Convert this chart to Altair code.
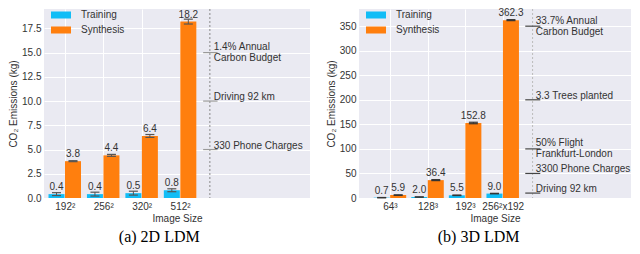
import altair as alt
import pandas as pd

series = ["Training", "Synthesis"]
series_colors = ["#12BDF6", "#FF7F0E"]

# (a) 2D LDM
cats_2d = ["192²", "256²", "320²", "512²"]
train_2d = [0.4, 0.4, 0.5, 0.8]
train_err_2d = [0.15, 0.2, 0.2, 0.15]
synth_2d = [3.8, 4.4, 6.4, 18.2]
synth_err_2d = [0.05, 0.1, 0.15, 0.25]
annot_vals_2d = [15, 10, 5]
annot_text_2d = ["1.4% Annual\nCarbon Budget", "Driving 92 km", "330 Phone Charges"]
yticks_2d = [0, 2.5, 5, 7.5, 10, 12.5, 15, 17.5]

# (b) 3D LDM
cats_3d = ["64³", "128³", "192³", "256²x192"]
train_3d = [0.7, 2.0, 5.5, 9.0]
train_err_3d = [0.3, 0.3, 0.5, 0.5]
synth_3d = [5.9, 36.4, 152.8, 362.3]
synth_err_3d = [0.5, 1.0, 1.5, 1.0]
annot_vals_3d = [350, 200, 100, 50, 10]
annot_text_3d = ["33.7% Annual\nCarbon Budget", "3.3 Trees planted",
                 "50% Flight\nFrankfurt-London", "3300 Phone Charges", "Driving 92 km"]
yticks_3d = [0, 50, 100, 150, 200, 250, 300, 350]

FONT = "Liberation Sans"
TXT = "#333333"


def panel(cats, train, terr, synth, serr, avals, atext, yticks, yfmt, ydom,
          xdom, width, dotted_x, tick_x0, tick_x1, text_x, tick_color, dot_color,
          err_color, caption):
    rows = []
    for i, c in enumerate(cats):
        rows.append({"idx": i, "cat": c, "series": "Training", "value": train[i], "err": terr[i]})
        rows.append({"idx": i, "cat": c, "series": "Synthesis", "value": synth[i], "err": serr[i]})
    df = pd.DataFrame(rows)
    label_expr = "[" + ",".join("'%s'" % c for c in cats) + "][datum.value]"
    X = alt.X("idx:Q", scale=alt.Scale(domain=xdom, nice=False, zero=False),
              axis=alt.Axis(values=list(range(len(cats))), labelExpr=label_expr,
                            title="Image Size", grid=True, labelPadding=3, titlePadding=2))
    yaxis = alt.Axis(values=yticks, format=yfmt, title="CO₂ Emissions (kg)",
                     grid=True, labelPadding=3, titlePadding=3)
    yscale = alt.Scale(domain=ydom, nice=False)

    layers = []
    for s, off in (("Training", -8.25), ("Synthesis", 8.25)):
        base = alt.Chart(df).transform_filter(alt.datum.series == s).transform_calculate(
            lo="datum.value - datum.err", hi="datum.value + datum.err")
        bar = base.mark_bar(width=16, xOffset=off).encode(
            x=X,
            y=alt.Y("value:Q", scale=yscale, axis=yaxis),
            color=alt.Color("series:N", scale=alt.Scale(domain=series, range=series_colors),
                            legend=alt.Legend(orient="none", legendX=12, legendY=1, title=None,
                                              symbolType="M-2,-0.7H2V0.7H-2Z", symbolSize=100,
                                              symbolStrokeWidth=0, symbolOpacity=1,
                                              labelFont=FONT, labelFontSize=10, labelColor=TXT,
                                              labelOffset=15, rowPadding=5, padding=0)))
        rule = base.mark_rule(xOffset=off, color=err_color, strokeWidth=1).encode(
            x=X, y=alt.Y("lo:Q", scale=yscale, axis=yaxis), y2="hi:Q")
        cap_hi = base.mark_rule(xOffset=off - 4.5, x2Offset=off + 4.5, color=err_color,
                                strokeWidth=1.2).encode(
            x=X, x2="idx:Q", y=alt.Y("hi:Q", scale=yscale, axis=yaxis))
        cap_lo = base.mark_rule(xOffset=off - 4.5, x2Offset=off + 4.5, color=err_color,
                                strokeWidth=1.2).encode(
            x=X, x2="idx:Q", y=alt.Y("lo:Q", scale=yscale, axis=yaxis))
        lab = base.mark_text(xOffset=off, dy=-2, baseline="bottom", font=FONT,
                             fontSize=10, color=TXT).encode(
            x=X, y=alt.Y("value:Q", scale=yscale, axis=yaxis),
            text=alt.Text("value:Q", format=".1f"))
        layers += [bar, rule, cap_hi, cap_lo, lab]

    adf = pd.DataFrame({"val": avals, "text": atext,
                        "multi": ["\n" in t for t in atext]})
    dotted = alt.Chart(pd.DataFrame({"d": [0]})).mark_rule(
        strokeDash=[2, 2], color=dot_color, strokeWidth=1).encode(x=alt.datum(dotted_x))
    ticks = alt.Chart(adf).mark_rule(color=tick_color, strokeWidth=1.2).encode(
        x=alt.datum(tick_x0), x2=alt.datum(tick_x1), y=alt.Y("val:Q", scale=yscale, axis=yaxis))
    t_single = alt.Chart(adf).transform_filter("!datum.multi").mark_text(
        align="left", baseline="bottom", font=FONT, fontSize=10, color=TXT, dy=1).encode(
        x=alt.datum(text_x), y=alt.Y("val:Q", scale=yscale, axis=yaxis), text="text:N")
    t_multi = alt.Chart(adf).transform_filter("datum.multi").mark_text(
        align="left", baseline="middle", font=FONT, fontSize=10, color=TXT,
        lineBreak="\n", lineHeight=11, dy=-5.5).encode(
        x=alt.datum(text_x), y=alt.Y("val:Q", scale=yscale, axis=yaxis), text="text:N")

    return alt.layer(dotted, *layers, ticks, t_single, t_multi).properties(
        width=width, height=189,
        title=alt.TitleParams(caption, orient="bottom", font="Liberation Serif", fontSize=16,
                              fontWeight="normal", color="black", offset=6, anchor="middle",
                              frame="bounds"))


left = panel(cats_2d, train_2d, train_err_2d, synth_2d, synth_err_2d,
             annot_vals_2d, annot_text_2d, yticks_2d, ".1f", [0, 19.5],
             [-0.41, 6.25], 266, 3.775, 3.6, 3.975, 3.875, "#9a9a9a", "#888888", "#555555",
             "(a) 2D LDM")
right = panel(cats_3d, train_3d, train_err_3d, synth_3d, synth_err_3d,
              annot_vals_3d, annot_text_3d, yticks_3d, "d", [0, 385],
              [-0.69, 6.28], 272, 3.795, 3.6, 4.0, 3.88, "#444444", "#bbbbbb", "#333333",
              "(b) 3D LDM")

chart = alt.hconcat(left, right, spacing=16).resolve_scale(
    color="independent", x="independent", y="independent").resolve_legend(
    color="independent").properties(padding=0).configure_view(
    fill="#EAEAF2", stroke=None).configure_axis(
    labelFont=FONT, titleFont=FONT, labelFontSize=10, titleFontSize=10,
    labelColor=TXT, titleColor=TXT, titleFontWeight="normal",
    domain=False, ticks=False, gridColor="white", gridWidth=1)

chart.save("out.html", embed_options={"renderer": "svg", "actions": False})
